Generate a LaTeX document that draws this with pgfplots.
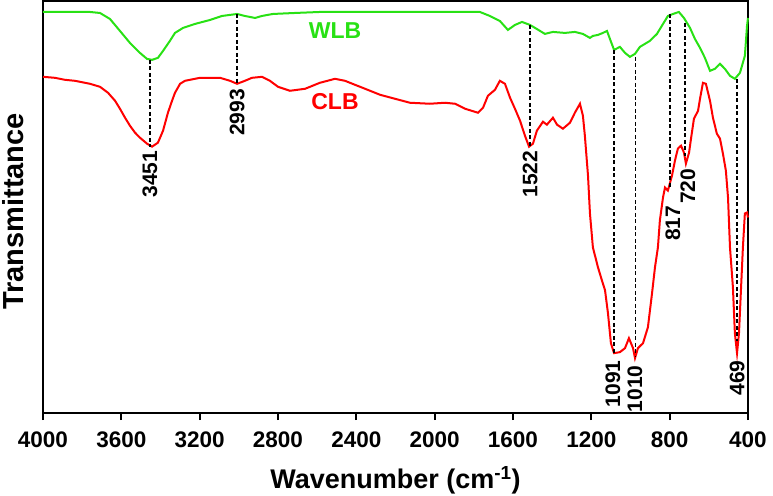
\documentclass[border=0pt]{standalone}
\usepackage{pgfplots}
\pgfplotsset{compat=1.18}
\usepackage{pgfplotstable}
\usepackage{fontspec}
\setmainfont{Liberation Sans}

\definecolor{wlbgreen}{RGB}{40,225,20}
\definecolor{clbred}{RGB}{255,0,0}

% WLB spectrum (wavenumber, transmittance in arbitrary units)
\pgfplotstableread{
w T
4000 402
3760 402
3709 401
3658 395
3607 383
3556 371
3505 361
3469 355
3443 354
3413 356
3387 363
3352 373
3326 381
3285 386
3224 390
3147 394
3086 398
3009 400
2969 398
2917 396
2882 398
2826 400
2713 401
2586 402
2177 402
2009 402
1769 402
1718 398
1667 393
1626 384
1590 389
1554 392
1513 389
1462 383
1437 380
1396 382
1335 381
1284 382
1243 380
1207 376
1192 378
1166 379
1141 381
1120 383
1105 375
1084 364
1054 367
1028 361
1003 357
977 360
952 367
901 373
865 380
834 390
809 398
783 400
753 402
727 396
696 386
671 375
645 366
620 356
594 343
569 345
543 350
518 345
492 338
467 335
441 341
416 358
405 388
400 396
}\wlb

% CLB spectrum
\pgfplotstableread{
w T
4000 337
3939 336
3888 334
3837 333
3760 330
3709 327
3668 321
3632 313
3607 305
3581 296
3556 288
3530 281
3505 276
3469 270
3443 267
3413 271
3387 283
3362 301
3341 313
3326 321
3300 330
3275 333
3198 336
3096 336
3045 333
3009 330
2969 333
2933 336
2882 337
2841 333
2800 327
2739 323
2662 325
2586 331
2509 335
2458 333
2381 327
2279 319
2203 315
2126 311
2024 310
1947 311
1896 310
1845 305
1779 301
1753 306
1728 318
1692 324
1667 333
1641 330
1615 316
1590 305
1564 293
1539 278
1518 267
1498 270
1478 283
1447 292
1427 289
1396 296
1375 289
1345 285
1309 291
1284 301
1258 310
1243 298
1233 278
1217 238
1207 200
1192 166
1166 146
1146 133
1130 123
1115 100
1100 70
1084 60
1054 61
1028 65
1008 75
987 65
977 55
962 65
936 70
911 86
890 120
875 146
860 166
850 193
834 216
824 226
809 223
788 238
773 253
758 265
742 268
727 261
717 250
701 261
691 275
676 295
655 303
645 315
630 331
615 330
594 313
579 296
559 280
543 275
528 260
513 243
502 216
492 166
477 126
467 80
456 60
446 80
436 123
426 166
416 200
405 201
400 196
}\clb

\begin{document}
\begin{tikzpicture}
\begin{axis}[
    scale only axis,
    width=705pt, height=412pt,
    x dir=reverse,
    xmin=400, xmax=4000,
    ymin=0, ymax=413,
    xtick={4000,3600,...,400},
    ytick=\empty,
    xtick pos=bottom,
    tick align=outside,
    major tick length=7pt,
    tick style={black, line width=1.8pt},
    axis line style={line width=2.2pt},
    /pgf/number format/assume math mode=true,
    /pgf/number format/1000 sep={},
    xticklabel style={font=\bfseries\fontsize{22.5}{22.5}\selectfont, yshift=-8pt},
    xlabel={\bfseries Wavenumber (cm\textsuperscript{-1})},
    xlabel style={font=\fontsize{27}{27}\selectfont, at={(axis description cs:0.5,0)}, anchor=center, yshift=-67pt},
    ylabel={\bfseries Transmittance},
    ylabel style={font=\fontsize{29}{29}\selectfont, at={(axis description cs:-0.0425,0.489)}, anchor=center},
    clip=false,
]
\addplot[wlbgreen, line width=2pt] table[x=w, y=T] {\wlb};
\addplot[clbred, line width=2pt] table[x=w, y=T] {\clb};

% peak guide lines
\pgfplotsset{peak/.style={black, line width=1.3pt, dash pattern=on 4pt off 2.5pt, forget plot}}
\addplot[peak] coordinates {(3454,354) (3454,267)};
\addplot[peak] coordinates {(3009,400) (3009,331)};
\addplot[peak] coordinates {(1513,389) (1513,267)};
\addplot[peak] coordinates {(1084,364) (1084,60)};
\addplot[peak] coordinates {(975,357) (975,57)};
\addplot[peak] coordinates {(798,400) (798,225)};
\addplot[peak] coordinates {(722,391) (722,258)};
\addplot[peak] coordinates {(456,335) (456,72)};

\begin{scope}[every node/.style={font=\bfseries\fontsize{21}{21}\selectfont, rotate=90, anchor=east, inner sep=0pt}]
\node at (axis cs:3454,263) {3451};
\node at (axis cs:3009,325) {2993};
\node at (axis cs:1513,263) {1522};
\node at (axis cs:783,208) {817};
\node at (axis cs:707,245) {720};
\node at (axis cs:1090,53) {1091};
\node at (axis cs:977,48) {1010};
\node at (axis cs:456,53) {469};
\end{scope}

\node[font=\bfseries\fontsize{23}{23}\selectfont, text=wlbgreen] at (axis cs:2509,383) {WLB};
\node[font=\bfseries\fontsize{23}{23}\selectfont, text=clbred] at (axis cs:2509,312) {CLB};
\end{axis}
\pgfresetboundingbox
\path[use as bounding box] (-43pt,-82pt) rectangle (730pt,413pt);
\end{tikzpicture}
\end{document}
